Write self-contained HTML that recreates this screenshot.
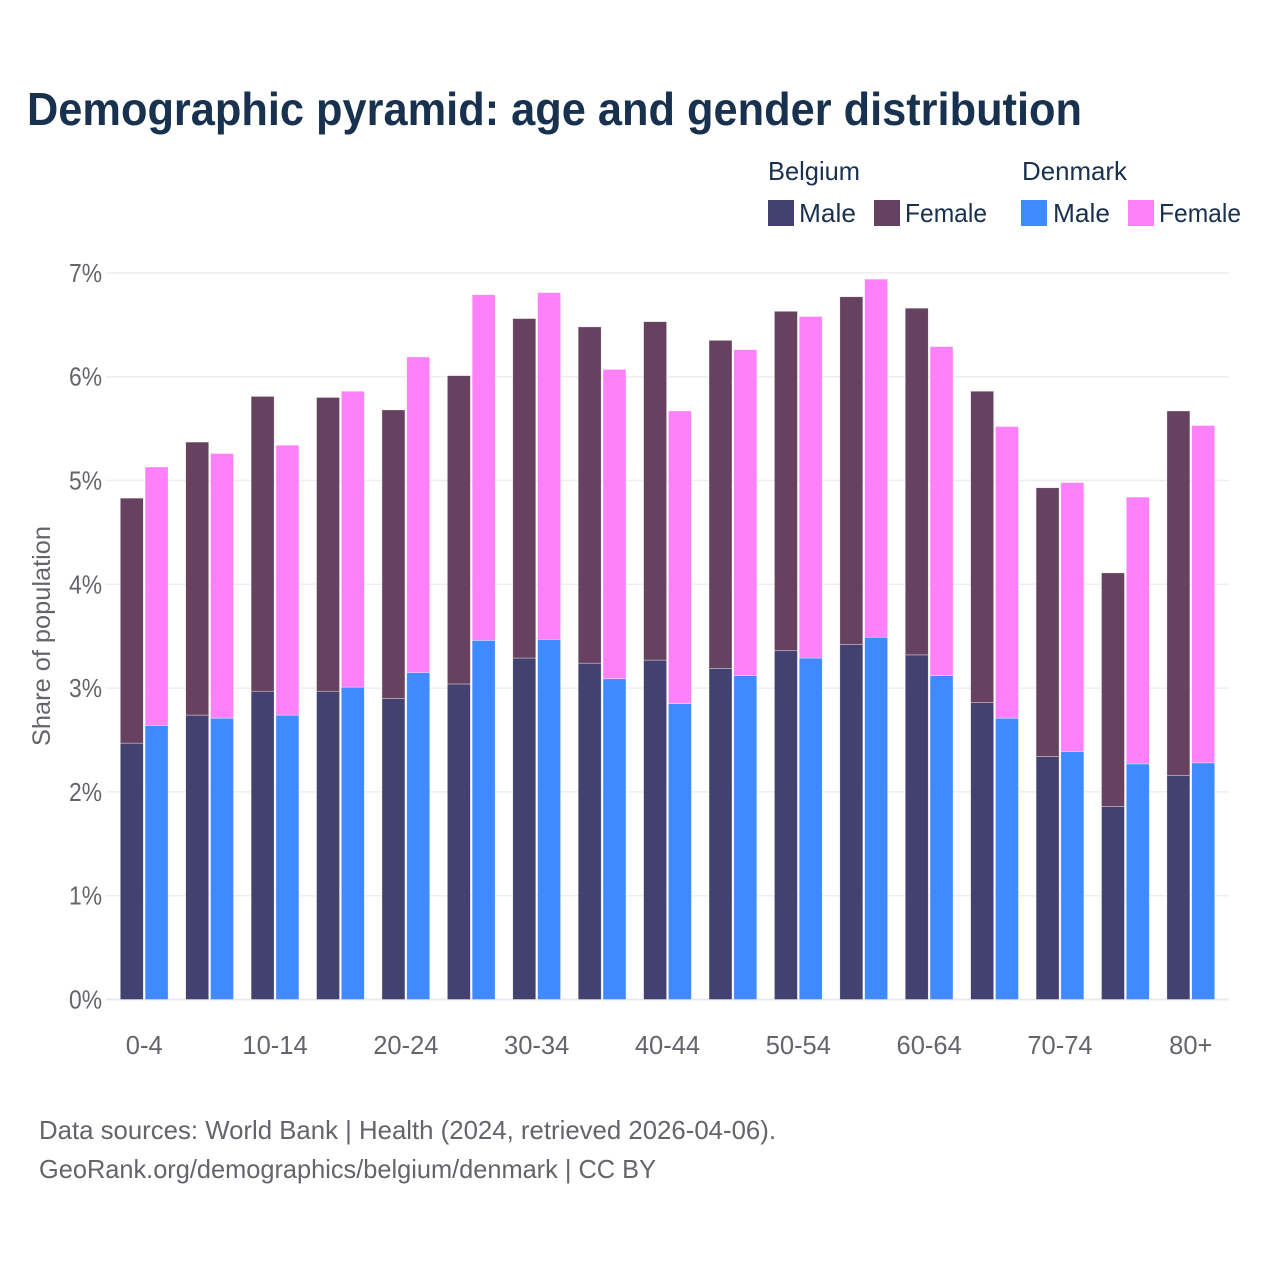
<!DOCTYPE html>
<html lang="en">
<head>
<meta charset="utf-8">
<title>Demographic pyramid</title>
<style>
html,body{margin:0;padding:0;background:#fff;}
svg{display:block;font-family:"Liberation Sans",sans-serif;}
</style>
</head>
<body>
<svg id="chart" xmlns="http://www.w3.org/2000/svg" width="1280" height="1280" viewBox="0 0 1280 1280">
  <rect width="1280" height="1280" fill="#ffffff"/>
  <text x="27" y="125" font-size="46" font-weight="700" fill="#17314f" textLength="1055" lengthAdjust="spacingAndGlyphs">Demographic pyramid: age and gender distribution</text>

  <g font-size="26" fill="#1a3050">
    <text x="768" y="180" textLength="92" lengthAdjust="spacingAndGlyphs">Belgium</text>
    <text x="1022" y="180" textLength="105" lengthAdjust="spacingAndGlyphs">Denmark</text>
    <rect x="768" y="200" width="26" height="26" fill="#43416f"/>
    <text x="799" y="222" textLength="57" lengthAdjust="spacingAndGlyphs">Male</text>
    <rect x="874" y="200" width="26" height="26" fill="#674160"/>
    <text x="905" y="222" textLength="82" lengthAdjust="spacingAndGlyphs">Female</text>
    <rect x="1021" y="200" width="26" height="26" fill="#3f8aff"/>
    <text x="1053" y="222" textLength="57" lengthAdjust="spacingAndGlyphs">Male</text>
    <rect x="1128" y="200" width="26" height="26" fill="#ff80f8"/>
    <text x="1159" y="222" textLength="82" lengthAdjust="spacingAndGlyphs">Female</text>
  </g>

  <text transform="translate(50,636) rotate(-90)" text-anchor="middle" font-size="25" fill="#66636b" textLength="220" lengthAdjust="spacingAndGlyphs">Share of population</text>

  <g id="grid"></g>
  <g id="bars"></g>
  <g id="yticks" font-size="25.5" fill="#66636b"></g>
  <g id="xticks" font-size="25.5" fill="#66636b"></g>

  <g font-size="26" fill="#66636b">
    <text x="39" y="1139" textLength="737" lengthAdjust="spacingAndGlyphs">Data sources: World Bank | Health (2024, retrieved 2026-04-06).</text>
    <text x="39" y="1178" textLength="617" lengthAdjust="spacingAndGlyphs">GeoRank.org/demographics/belgium/denmark | CC BY</text>
  </g>
</svg>
<script>
const categories = ["0-4","5-9","10-14","15-19","20-24","25-29","30-34","35-39","40-44","45-49","50-54","55-59","60-64","65-69","70-74","75-79","80+"];
const xTickLabels = ["0-4","10-14","20-24","30-34","40-44","50-54","60-64","70-74","80+"];
const yTickValues = [0,1,2,3,4,5,6,7];
const belgiumMale = [2.47,2.74,2.97,2.97,2.90,3.04,3.29,3.24,3.27,3.19,3.36,3.42,3.32,2.86,2.34,1.86,2.16];
const belgiumFemale = [2.36,2.63,2.84,2.83,2.78,2.97,3.27,3.24,3.26,3.16,3.27,3.35,3.34,3.00,2.59,2.25,3.51];
const denmarkMale = [2.64,2.71,2.74,3.01,3.15,3.46,3.47,3.09,2.85,3.12,3.29,3.49,3.12,2.71,2.39,2.27,2.28];
const denmarkFemale = [2.49,2.55,2.60,2.85,3.04,3.33,3.34,2.98,2.82,3.14,3.29,3.45,3.17,2.81,2.59,2.57,3.25];

const NS = "http://www.w3.org/2000/svg";
const plotLeft = 106, plotRight = 1229, yZero = 999.5, yPerUnit = 103.8;
const firstCenter = 144.2, lastCenter = 1190.8;
const barWidth = 23, barOffset = 12.4;
const step = (lastCenter - firstCenter) / (categories.length - 1);
function xScale(category) { return firstCenter + categories.indexOf(category) * step; }
function yScale(value) { return yZero - value * yPerUnit; }
function make(tag, attrs, parent) {
  const el = document.createElementNS(NS, tag);
  for (const k in attrs) el.setAttribute(k, attrs[k]);
  parent.appendChild(el);
  return el;
}

const grid = document.getElementById("grid");
const yticks = document.getElementById("yticks");
yTickValues.forEach(function (v) {
  const y = yScale(v);
  const line = make("line", {x1: plotLeft, x2: plotRight, y1: y, y2: y, stroke: v === 0 ? "#e9e9f1" : "#eeeef1", "stroke-width": v === 0 ? 2 : 1.5}, grid);
  
  
  const t = make("text", {x: 69, y: y + 9, textLength: 33, lengthAdjust: "spacingAndGlyphs"}, yticks);
  t.textContent = v + "%";
  
  
});

const xticks = document.getElementById("xticks");
xTickLabels.forEach(function (label) {
  const t = make("text", {x: xScale(label), y: 1054, "text-anchor": "middle"}, xticks);
  t.textContent = label;
  
  
});

const bars = document.getElementById("bars");
function drawBar(cat, base, value, offset, color, name) {
  const top = yScale(base + value), bottom = yScale(base);
  const r = make("rect", {x: xScale(cat) + offset - barWidth / 2, y: top, width: barWidth, height: bottom - top, fill: color, stroke: "#ffffff", "stroke-width": 0.6, "stroke-opacity": 0.6}, bars);
  
  
}
categories.forEach(function (cat, i) {
  drawBar(cat, 0, belgiumMale[i], -barOffset, "#43416f", "bar-belgium-male-" + cat);
  drawBar(cat, belgiumMale[i], belgiumFemale[i], -barOffset, "#674160", "bar-belgium-female-" + cat);
  drawBar(cat, 0, denmarkMale[i], barOffset, "#3f8aff", "bar-denmark-male-" + cat);
  drawBar(cat, denmarkMale[i], denmarkFemale[i], barOffset, "#ff80f8", "bar-denmark-female-" + cat);
});
</script>
</body>
</html>
